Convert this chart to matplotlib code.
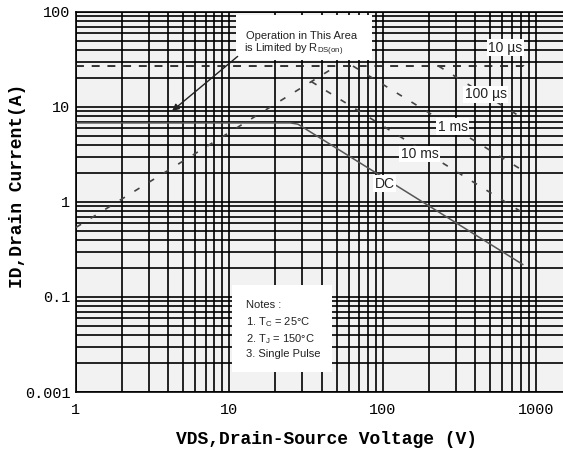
import numpy as np
import matplotlib
matplotlib.use('Agg')
from matplotlib import pyplot as plt
from matplotlib.patches import Rectangle
from matplotlib.ticker import LogLocator, FixedLocator, FixedFormatter, NullFormatter

# curves of the safe operating area (V, A)
rds_v = [1, 50]
rds_i = [0.54, 27]
us10_v = [1, 830, 860]
us10_i = [27, 27, 24.5]
us100_v = [231, 800]
us100_i = [27, 7.8]
ms1_v = [64, 800]
ms1_i = [27, 2.2]
ms10_v = [34.3, 800]
ms10_i = [18.5, 0.79]
dc_v = [1, 25, 28, 820]
dc_i = [6.8, 6.8, 6.6, 0.22]

x_ticks = [1, 10, 100, 1000]
x_labels = ['1', '10', '100', '1000']
y_ticks = [0.01, 0.1, 1, 10, 100]
y_labels = ['0.001', '0.1', '1', '10', '100']

sans = ['Liberation Sans Narrow', 'Liberation Sans', 'DejaVu Sans']
mono = ['Liberation Mono', 'DejaVu Sans Mono']

fig = plt.figure(figsize=(5.63, 4.55), dpi=100)
ax = fig.add_axes([76/563, 63/455, 487/563, 380/455])
ax.set_facecolor('#f2f2f2')
ax.set_xscale('log')
ax.set_yscale('log')
ax.set_xlim(1, 1500)
ax.set_ylim(0.01, 100)

ax.xaxis.set_major_locator(FixedLocator(x_ticks))
ax.xaxis.set_major_formatter(FixedFormatter(x_labels))
ax.yaxis.set_major_locator(FixedLocator(y_ticks))
ax.yaxis.set_major_formatter(FixedFormatter(y_labels))
ax.xaxis.set_minor_locator(LogLocator(base=10, subs=np.arange(2, 10)))
ax.yaxis.set_minor_locator(LogLocator(base=10, subs=np.arange(2, 10)))
ax.xaxis.set_minor_formatter(NullFormatter())
ax.yaxis.set_minor_formatter(NullFormatter())
ax.tick_params(which='both', length=0)
ax.tick_params(axis='x', pad=8)
ax.tick_params(axis='y', pad=4)
for lab in ax.get_xticklabels() + ax.get_yticklabels():
    lab.set_family(mono)
    lab.set_fontsize(11)

ax.set_axisbelow(True)
ax.grid(which='both', color='black', lw=1.2)
ax.spines['right'].set_visible(False)
for s in ['left', 'bottom', 'top']:
    ax.spines[s].set_linewidth(1.2)

# lines
ax.plot(us10_v, us10_i, color='#222222', lw=1.3, dashes=(4.4, 4.3), zorder=3)
ax.plot(rds_v, rds_i, color='#444444', lw=1.2, dashes=(3.6, 6.7), zorder=3)
ax.plot(us100_v, us100_i, color='#444444', lw=1.2, dashes=(3.6, 6.7), zorder=3)
ax.plot(ms1_v, ms1_i, color='#444444', lw=1.2, dashes=(3.6, 6.7), zorder=3)
ax.plot(ms10_v, ms10_i, color='#444444', lw=1.2, dashes=(3.6, 6.7), zorder=3)
ax.plot(dc_v, dc_i, color='#555555', lw=1.1, zorder=3)

# white boxes
ax.add_patch(Rectangle((11.0, 31.5), 85 - 11.0, 94 - 31.5, facecolor='white',
                       edgecolor='none', zorder=2))
ax.add_patch(Rectangle((10.4, 0.0163), 46.5 - 10.4, 0.134 - 0.0163,
                       facecolor='white', edgecolor='none', zorder=2))

box = dict(facecolor='white', edgecolor='none', pad=1)
lbl = dict(fontsize=10, family=sans, color='#222222', ha='center', va='center',
           bbox=box, zorder=4)
ax.text(633, 42, '10 \u00b5s', **lbl)
ax.text(469, 13.6, '100 \u00b5s', **lbl)
ax.text(286, 6.2, '1 ms', **lbl)
ax.text(174, 3.2, '10 ms', **lbl)
ax.text(103, 1.56, 'DC', **lbl)

ax.text(12.8, 56, 'Operation in This Area', fontsize=8, family=sans,
        color='#222222', va='center', zorder=4)
ax.text(12.4, 40, r'is Limited by R$_\mathregular{DS(on)}$', fontsize=8,
        family=sans, color='#222222', va='center', zorder=4)
ax.annotate('', xy=(4.1, 8.7), xytext=(11.7, 35.6),
            arrowprops=dict(arrowstyle='-|>', color='#222222', lw=1,
                            mutation_scale=10), zorder=4)

notes = ['Notes :', r'1. T$_\mathregular{C}$ = 25\u00b0C',
         r'2. T$_\mathregular{J}$ = 150\u00b0C', '3. Single Pulse']
note_y = [0.082, 0.055, 0.036, 0.025]
for t, yy in zip(notes, note_y):
    ax.text(12.8, yy, t.replace('\\u00b0', '\u00b0'), fontsize=8, family=sans,
            color='#222222', va='center', zorder=4)

ax.set_xlabel('VDS,Drain-Source Voltage (V)', family=mono, fontweight='bold',
              fontsize=13, va='center')
ax.xaxis.set_label_coords(0.515, -0.126)
ax.set_ylabel('ID,Drain Current(A)', family=mono, fontweight='bold',
              fontsize=13, va='center')
ax.yaxis.set_label_coords(-0.121, 0.542)

fig.savefig('out.png', dpi=100)
